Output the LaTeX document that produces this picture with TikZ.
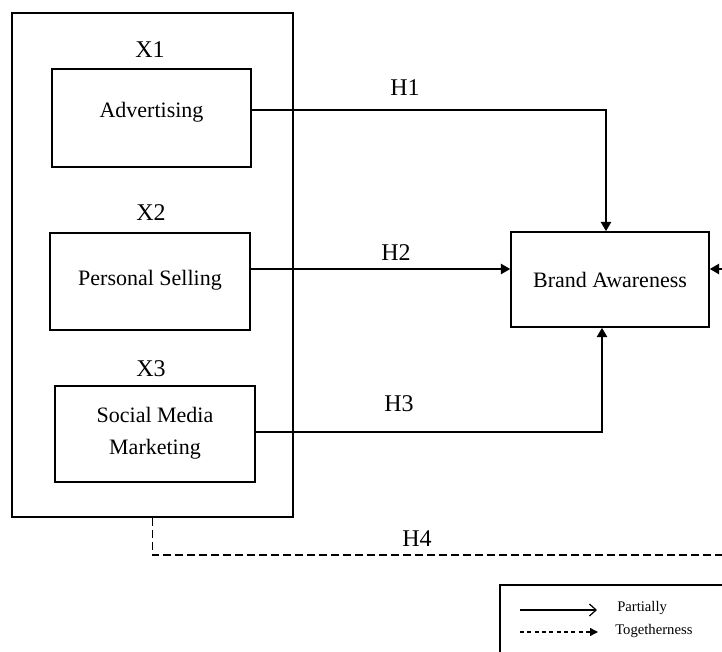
\documentclass[tikz,border=0pt]{standalone}
\usepackage{fontspec}
\setmainfont{Liberation Serif}
\usetikzlibrary{arrows.meta}
\begin{document}
\begin{tikzpicture}[x=0.75pt,y=-0.75pt,
  box/.style={draw,line width=1.1pt,inner sep=0pt},
  boxtext/.style={font=\fontsize{16.5}{24}\selectfont,align=center,inner sep=0pt},
  lbl/.style={font=\fontsize{18}{20}\selectfont,inner sep=0pt},
  arr/.style={line width=2.2pt,-{Triangle[length=7pt,width=7.5pt]}},
  dasharr/.style={line width=1.2pt,dash pattern=on 6pt off 3pt}]
\useasboundingbox (0,0) rectangle (722,652);
\clip (0,0) rectangle (722,652);
% outer group box
\node[box,minimum width=210.75pt,minimum height=378pt] (outer) at (152.5,265) {};
% independent variable boxes
\node[box,minimum width=149.25pt,minimum height=73.5pt] (adv) at (151.5,118) {};
\node[boxtext] (advt) at (151.5,112) {Advertising};
\node[box,minimum width=150pt,minimum height=72.75pt] (ps) at (150,281.5) {};
\node[boxtext] (pst) at (150,280) {Personal Selling};
\node[box,minimum width=150pt,minimum height=72pt] (smm) at (155,434) {};
\node[boxtext] (smmt) at (155,433) {Social Media\\Marketing};
% dependent variable
\node[box,minimum width=148.5pt,minimum height=71.25pt] (ba) at (610,279.5) {};
\node[boxtext] (bat) at (610,280) {Brand Awareness};
% variable labels
\node[lbl] (x1) at (150,50) {X1};
\node[lbl] (x2) at (151,213) {X2};
\node[lbl] (x3) at (151,369) {X3};
\node[lbl] (h1) at (405,88) {H1};
\node[lbl] (h2) at (396,253) {H2};
\node[lbl] (h3) at (399,404) {H3};
\node[lbl] (h4) at (417,539) {H4};
% helper coordinates
\coordinate (y110) at (0,110);
\coordinate (y269) at (0,269);
\coordinate (y432) at (0,432);
\coordinate (h4turn) at (152.5,555);
\coordinate (h4end) at (730,555);
\coordinate (rin) at (730,269);
% connectors
\draw[arr] (adv.east |- y110) -| ([xshift=-3pt]ba.north);
\draw[arr] (ps.east |- y269) -- (ba.west |- y269);
\draw[arr] (smm.east |- y432) -| ([xshift=-6pt]ba.south);
\draw[dasharr] (outer.south) -- (h4turn) -- (h4end);
\draw[arr] (rin) -- (ba.east |- y269);
% legend
\draw[line width=1.1pt] (500,660) -- (500,585) -- (730,585);
\coordinate (l1a) at (520,610);
\coordinate (l1b) at (597,610);
\coordinate (l2a) at (520,632);
\coordinate (l2b) at (598,632);
\draw[line width=0.9pt,-{Straight Barb[length=5pt,width=9pt]}] (l1a) -- (l1b);
\draw[line width=0.9pt,dash pattern=on 3pt off 2.5pt,-{Triangle[length=6pt,width=6pt]}] (l2a) -- (l2b);
\node[anchor=west,font=\fontsize{11}{12}\selectfont,inner sep=0pt] (lp) at (617,608) {Partially};
\node[anchor=west,font=\fontsize{11}{12}\selectfont,inner sep=0pt] (lt) at (615,631) {Togetherness};
\end{tikzpicture}
\end{document}
